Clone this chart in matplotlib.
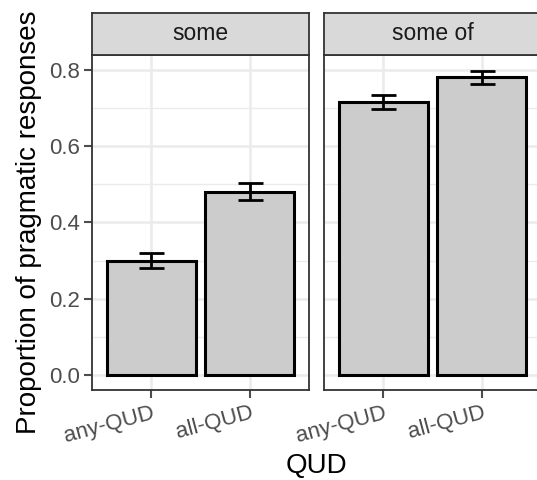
import matplotlib
matplotlib.use("Agg")
import matplotlib.pyplot as plt
import numpy as np

plt.rcParams['font.family'] = ['Liberation Sans', 'DejaVu Sans']

facets = ["some", "some of"]
categories = ["any-QUD", "all-QUD"]
means = {"some": [0.300, 0.481], "some of": [0.716, 0.783]}
lower = {"some": [0.281, 0.460], "some of": [0.697, 0.764]}
upper = {"some": [0.321, 0.504], "some of": [0.734, 0.799]}
yticks = [0.0, 0.2, 0.4, 0.6, 0.8]
ytick_labels = ["0.0", "0.2", "0.4", "0.6", "0.8"]

W, H = 537, 480
fig = plt.figure(figsize=(W / 100, H / 100), dpi=100)

panel_top, panel_bot = 55, 390
strip_top = 13
panel_w = 217
lefts = [92, 324]

grid_col = "#EBEBEB"
border_col = "#333333"
tick_col = "#4D4D4D"

for i, f in enumerate(facets):
    ax = fig.add_axes([lefts[i] / W, (H - panel_bot) / H, panel_w / W, (panel_bot - panel_top) / H])
    x = np.arange(1, len(categories) + 1)
    ax.set_xlim(0.4, 2.6)
    ax.set_ylim(-0.04, 0.84)
    for yv in [0.1, 0.3, 0.5, 0.7]:
        ax.axhline(yv, color=grid_col, lw=1.0, zorder=0)
    for yv in yticks:
        ax.axhline(yv, color=grid_col, lw=1.8, zorder=0)
    for xv in x:
        ax.axvline(xv, color=grid_col, lw=1.8, zorder=0)
    ax.bar(x, means[f], width=0.9, color="#CCCCCC", edgecolor="black", linewidth=2.2, zorder=2)
    m = np.array(means[f]); lo = np.array(lower[f]); hi = np.array(upper[f])
    ax.errorbar(x, m, yerr=[m - lo, hi - m], fmt="none", ecolor="black", elinewidth=2.0,
                capsize=9, capthick=2.0, zorder=3)
    for s in ax.spines.values():
        s.set_color(border_col)
        s.set_linewidth(1.3)
        s.set_zorder(5)
    ax.set_xticks(x)
    ax.set_xticklabels(categories, rotation=15, ha="right", va="top", rotation_mode="anchor",
                       color=tick_col, fontsize=16)
    ax.tick_params(axis="both", colors=tick_col, length=6, width=1.5, labelcolor=tick_col,
                   labelsize=16)
    ax.tick_params(axis="x", pad=3)
    ax.tick_params(axis="y", pad=3)
    ax.set_yticks(yticks)
    if i == 0:
        ax.set_yticklabels(ytick_labels)
        ax.set_ylabel("Proportion of pragmatic responses", fontsize=20, color="black", labelpad=5)
    else:
        ax.tick_params(axis="y", left=False, labelleft=False)
    sax = fig.add_axes([lefts[i] / W, (H - panel_top) / H, panel_w / W, (panel_top - strip_top) / H])
    sax.set_facecolor("#D9D9D9")
    sax.set_xticks([]); sax.set_yticks([])
    for s in sax.spines.values():
        s.set_color(border_col)
        s.set_linewidth(1.3)
    sax.text(0.5, 0.5, f, ha="center", va="center", fontsize=16.5, color="#1A1A1A",
             transform=sax.transAxes)

fig.text(316 / W, 1 - 466 / H, "QUD", ha="center", va="center", fontsize=20, color="black")

fig.savefig("out.png", dpi=100)
